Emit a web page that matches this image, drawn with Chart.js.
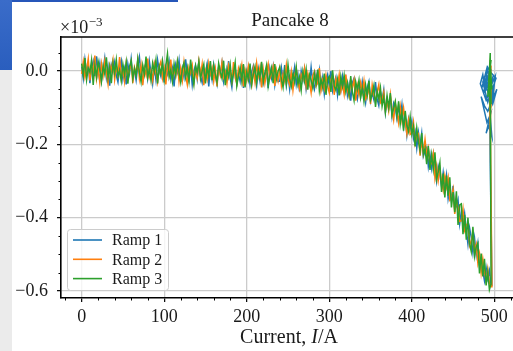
<!DOCTYPE html>
<html>
<head>
<meta charset="utf-8">
<script src="https://cdn.jsdelivr.net/npm/chart.js@4/dist/chart.umd.min.js"></script>
<style>
  html, body { margin: 0; padding: 0; width: 513px; height: 351px; overflow: hidden; background: #fff; }
  #blueTop { position: absolute; left: 0; top: 0; width: 178px; height: 2px; background: #2656b9; }
  #blueLeft { position: absolute; left: 0; top: 0; width: 12px; height: 70px; background: linear-gradient(#3a6cc9, #2a5ebe); }
  #greyLeft { position: absolute; left: 0; top: 70px; width: 12px; height: 281px; background: #ebebeb; }
  #c { position: absolute; left: 0; top: 0; }
</style>
</head>
<body>
<div id="blueTop"></div><div id="blueLeft"></div><div id="greyLeft"></div>
<canvas id="c" width="530" height="351"></canvas>
<script>
// Current, I/A (shared by the three ramps)
const current = [
  0,2,4,6,8,10,12,14,16,18,20,22,24,26,28,30,32,34,36,38,
  40,42,44,46,48,50,52,54,56,58,60,62,64,66,68,70,72,74,76,78,
  80,82,84,86,88,90,92,94,96,98,100,102,104,106,108,110,112,114,116,118,
  120,122,124,126,128,130,132,134,136,138,140,142,144,146,148,150,152,154,156,158,
  160,162,164,166,168,170,172,174,176,178,180,182,184,186,188,190,192,194,196,198,
  200,202,204,206,208,210,212,214,216,218,220,222,224,226,228,230,232,234,236,238,
  240,242,244,246,248,250,252,254,256,258,260,262,264,266,268,270,272,274,276,278,
  280,282,284,286,288,290,292,294,296,298,300,302,304,306,308,310,312,314,316,318,
  320,322,324,326,328,330,332,334,336,338,340,342,344,346,348,350,352,354,356,358,
  360,362,364,366,368,370,372,374,376,378,380,382,384,386,388,390,392,394,396,398,
  400,402,404,406,408,410,412,414,416,418,420,422,424,426,428,430,432,434,436,438,
  440,442,444,446,448,450,452,454,456,458,460,462,464,466,468,470,472,474,476,478,
  480,482,484,486,488,490,492,494,496
];
// Voltage of each ramp, in microvolts (axis shows x10^-3 V)
const ramp1 = [
  12,-20,31,-5,18,-33,7,26,-14,40,
  -9,21,-27,3,35,-18,11,-40,16,-2,
  24,-12,-30,9,28,-22,5,-37,19,-7,
  33,-16,2,-25,14,38,-11,-29,8,20,
  -19,27,-4,-35,13,-24,30,0,-15,22,
  -31,10,-8,25,-21,6,-42,17,-3,29,
  -30,7,-17,32,-10,-27,11,-38,0,15,
  -21,23,-14,-32,4,-5,19,-42,8,-23,
  17,-13,-36,10,-9,22,-28,-1,-20,27,
  -20,-44,1,10,-35,-7,-28,16,-46,-1,
  -22,8,-37,-3,14,-16,-41,5,-26,20,
  -33,-12,2,-47,7,-19,12,-38,-6,-29,
  -28,9,-22,16,-39,-10,-49,-4,-19,10,
  -37,-10,-56,-1,-26,4,-49,-19,-36,10,
  -33,-50,-10,-29,2,-47,-18,-63,-23,-9,
  -42,0,-54,-33,-17,-65,-27,-53,-14,-46,
  -21,-66,-38,-81,-32,-20,-58,-77,-43,-69,
  -29,-60,-87,-46,-29,-81,-60,-78,-30,-77,
  -94,-57,-80,-52,-113,-78,-102,-71,-123,-88,
  -101,-130,-95,-126,-92,-152,-127,-174,-132,-158,
  -136,-184,-165,-210,-168,-203,-170,-233,-219,-209,
  -260,-228,-265,-228,-267,-301,-260,-281,-314,-277,
  -315,-284,-348,-323,-354,-313,-377,-369,-351,-416,
  -383,-423,-389,-434,-472,-428,-454,-495,-456,-501,
  -470,-531,-512,-546,-572,-536,-566,-544,-585
];
const ramp2 = [
  -8,25,-17,4,33,-26,14,-2,42,-21,
  9,-31,19,-12,27,-5,-36,16,1,30,
  -23,12,-9,38,-18,6,-28,21,-14,3,
  24,-33,10,-6,29,-20,15,-39,8,-11,
  34,-16,2,-25,20,-3,-30,13,26,-19,
  7,-37,17,-10,31,-22,4,-13,23,-28,
  7,-25,24,-12,-37,10,-6,15,-30,1,
  -19,26,-13,18,-39,-1,-22,21,-8,9,
  -28,5,-42,12,-11,23,-17,-3,-33,16,
  -2,-27,24,-19,-34,7,-11,16,-42,2,
  -24,13,-16,-39,5,-30,21,-14,10,-45,
  4,-33,-5,19,-22,-10,12,-41,1,-26,
  5,-40,-8,-28,16,-24,-38,-3,-52,-13,
  7,-30,-49,-10,-23,7,-40,-7,-30,-59,
  -13,-1,-41,-32,8,-52,-26,-48,-12,-41,
  -59,-24,-12,-65,-22,-39,-10,-55,-35,-63,
  -10,-51,-69,-28,-46,-24,-81,-40,-65,-32,
  -58,-27,-76,-66,-44,-90,-38,-65,-82,-57,
  -37,-87,-80,-58,-108,-80,-108,-64,-104,-133,
  -88,-110,-141,-97,-134,-101,-139,-171,-135,-173,
  -169,-140,-197,-176,-171,-231,-190,-224,-187,-229,
  -210,-256,-252,-226,-291,-259,-299,-268,-301,-325,
  -286,-316,-291,-352,-347,-323,-390,-355,-374,-410,
  -409,-377,-434,-419,-416,-476,-463,-442,-492,-473,
  -524,-499,-550,-512,-547,-572,-540,-579,-588
];
const ramp3 = [
  20,-11,35,-24,8,-3,29,-38,15,-17,
  26,4,-29,13,-8,37,-19,10,-33,22,
  -6,31,-15,1,-27,18,-10,24,-35,11,
  28,-21,7,-13,33,-4,-30,16,-9,39,
  -18,5,-26,21,-2,30,-34,12,-7,25,
  -23,14,47,-16,3,-29,19,-11,27,-5,
  -31,6,22,-17,9,-27,31,-8,-37,14,
  -4,25,-22,0,18,-34,11,-14,27,-25,
  15,-9,-31,21,-2,-20,28,-39,5,-16,
  17,-30,-6,23,-40,-12,10,-27,19,-45,
  -2,-24,20,-36,-8,12,-31,4,-18,25,
  -29,-5,16,-41,-13,8,-33,19,-22,-1,
  11,-22,-45,0,-35,17,-21,-42,-8,-31,
  10,-36,-16,-52,-1,-28,4,-51,-10,-25,
  -46,-8,-36,4,-53,-22,-45,-7,-65,-22,
  -15,-57,2,-41,-53,-24,-67,-15,-42,-12,
  -56,-32,-65,-14,-57,-80,-29,-51,-25,-72,
  -46,-82,-38,-67,-27,-79,-63,-40,-98,-55,
  -77,-46,-96,-71,-112,-67,-100,-60,-120,-102,
  -83,-123,-83,-144,-112,-163,-109,-148,-165,-125,
  -172,-151,-206,-156,-193,-217,-169,-227,-211,-254,
  -205,-270,-228,-268,-222,-295,-275,-250,-330,-280,
  -345,-285,-340,-290,-372,-330,-385,-328,-420,-365,
  -362,-445,-392,-460,-400,-470,-492,-425,-505,-480,
  -470,-552,-498,-560,-512,-585,-548,-596,-580
];
// Hold at the top current after each ramp: current (A) and voltage (uV)
const hold1I = [497,495,494,492,496,490,494,499,493,488,485,491,497,500,495,489,486,483,490,494,498,503,492,488,484,491,495,490,493,497,494,499,502,496,492,489,487,493,498,501,495,490,486,492,496,494];
const hold1V = [-560,-250,0,-20,5,-30,-50,-10,-65,-20,-45,8,-40,-70,-30,-55,-10,-35,-80,-60,-90,-50,-110,-95,-70,-140,-120,-170,-150,-180,-100,-40,-20,-5,10,-35,-60,-25,-75,-15,-45,-5,-30,-85,-55,-20];
const hold2I = [497,495,495,494,496,494,495,496,494,495,496];
const hold2V = [-575,-120,30,-20,15,-60,-10,-100,-40,-160,-50];
const hold3I = [496,495,494,496,493,495,497,494,492,495,496,494,495,495];
const hold3V = [-583,49,0,30,-30,20,-50,-15,-70,10,-90,-40,-110,-60];

const seriesNames = ['Ramp 1','Ramp 2','Ramp 3'];
const seriesColors = ['#1f77b4','#ff7f0e','#2ca02c'];
const xTicks = [0,100,200,300,400,500];
const yTicks = [0,-200,-400,-600];

const FONT = "'Liberation Serif', 'DejaVu Serif', serif";
const TXT = '#1a1a1a';

function build(vals, hI, hV) {
  const n = Math.min(vals.length, current.length);
  const pts = [];
  for (let i = 0; i < n; i++) pts.push({x: current[i], y: vals[i]});
  hI.forEach((c, i) => pts.push({x: c, y: hV[i]}));
  return pts;
}
const allData = [build(ramp1, hold1I, hold1V), build(ramp2, hold2I, hold2V), build(ramp3, hold3I, hold3V)];

const deco = {
  id: 'deco',
  afterDraw(chart) {
    const {ctx, chartArea: a, scales: {x, y}} = chart;
    ctx.save();
    ctx.strokeStyle = '#000'; ctx.lineWidth = 1.6;
    ctx.beginPath(); ctx.moveTo(a.left - 0.8, a.top); ctx.lineTo(a.right, a.top); ctx.lineTo(a.right, a.bottom); ctx.stroke();
    // minor ticks
    ctx.lineWidth = 1;
    ctx.beginPath();
    for (let v = -20; v <= 520; v += 20) {
      if (v % 100 === 0) continue;
      const px = Math.round(x.getPixelForValue(v)) + 0.5;
      ctx.moveTo(px, a.bottom); ctx.lineTo(px, a.bottom + 2.5);
    }
    for (let v = -600; v <= 50; v += 50) {
      if (v % 200 === 0) continue;
      const py = Math.round(y.getPixelForValue(v)) + 0.5;
      ctx.moveTo(a.left, py); ctx.lineTo(a.left - 2.5, py);
    }
    ctx.stroke();
    // title
    ctx.fillStyle = TXT;
    ctx.textBaseline = 'alphabetic';
    ctx.textAlign = 'center';
    ctx.font = `19px ${FONT}`;
    ctx.fillText('Pancake 8', (a.left + a.right) / 2 + 2, 26);
    // offset text
    ctx.textAlign = 'left';
    ctx.font = `18px ${FONT}`;
    ctx.fillText('\u00d710', a.left - 1, 33);
    const w10 = ctx.measureText('\u00d710').width;
    ctx.font = `13px ${FONT}`;
    ctx.fillText('\u22123', a.left - 1 + w10 + 0.5, 26);
    // x axis label with italic I
    const parts = [['Current, ', ''], ['I', 'italic '], ['/A', '']];
    let total = 0;
    for (const [t, st] of parts) { ctx.font = `${st}20px ${FONT}`; total += ctx.measureText(t).width; }
    let cx = (a.left + a.right) / 2 + 1 - total / 2;
    for (const [t, st] of parts) { ctx.font = `${st}20px ${FONT}`; ctx.fillText(t, cx, 343); cx += ctx.measureText(t).width; }
    // legend
    const lx = 67, ly = 229, lw = 101, lh = 61;
    ctx.fillStyle = 'rgba(255,255,255,0.8)';
    ctx.strokeStyle = '#cccccc'; ctx.lineWidth = 1;
    ctx.beginPath();
    if (ctx.roundRect) ctx.roundRect(lx + 0.5, ly + 0.5, lw, lh, 3); else ctx.rect(lx + 0.5, ly + 0.5, lw, lh);
    ctx.fill(); ctx.stroke();
    ctx.font = `16px ${FONT}`;
    ctx.textBaseline = 'middle';
    seriesNames.forEach((n, i) => {
      const yy = 240 + i * 19.3;
      ctx.strokeStyle = seriesColors[i]; ctx.lineWidth = 1.6;
      ctx.beginPath(); ctx.moveTo(73, yy); ctx.lineTo(102, yy); ctx.stroke();
      ctx.fillStyle = TXT;
      ctx.fillText(n, 112, yy + 1);
    });
    ctx.restore();
  }
};

new Chart(document.getElementById('c'), {
  type: 'line',
  data: {
    datasets: seriesNames.map((n, i) => ({
      label: n,
      data: allData[i],
      borderColor: seriesColors[i],
      backgroundColor: seriesColors[i],
      borderWidth: 1.5,
      pointRadius: 0,
      tension: 0,
      fill: false,
      order: 3 - i
    }))
  },
  options: {
    responsive: false,
    animation: false,
    devicePixelRatio: 1,
    layout: { padding: { left: 0, right: 15, top: 37, bottom: 0 } },
    plugins: { legend: { display: false }, tooltip: { enabled: false }, title: { display: false } },
    scales: {
      x: {
        type: 'linear', min: -25, max: 525,
        afterFit: s => { s.height = 53; },
        afterBuildTicks: s => { s.ticks = xTicks.map(v => ({value: v})); },
        ticks: { color: TXT, font: { family: FONT, size: 18 }, padding: 4, maxRotation: 0, autoSkip: false,
                 callback: v => String(v) },
        grid: { color: '#cbcbcb', lineWidth: 1.3, tickLength: 4, tickColor: '#000', tickWidth: 1.2 },
        border: { color: '#000', width: 1.6 }
      },
      y: {
        type: 'linear', min: -619, max: 92.6,
        afterFit: s => { s.width = 61; },
        afterBuildTicks: s => { s.ticks = yTicks.map(v => ({value: v})); },
        ticks: { color: TXT, font: { family: FONT, size: 18 }, padding: 9, autoSkip: false,
                 callback: v => (v < 0 ? '\u2212' : '') + (Math.abs(v) / 1000).toFixed(1) },
        grid: { color: '#cbcbcb', lineWidth: 1.3, tickLength: 4, tickColor: '#000', tickWidth: 1.2 },
        border: { color: '#000', width: 1.6 }
      }
    }
  },
  plugins: [deco]
});
</script>
</body>
</html>
